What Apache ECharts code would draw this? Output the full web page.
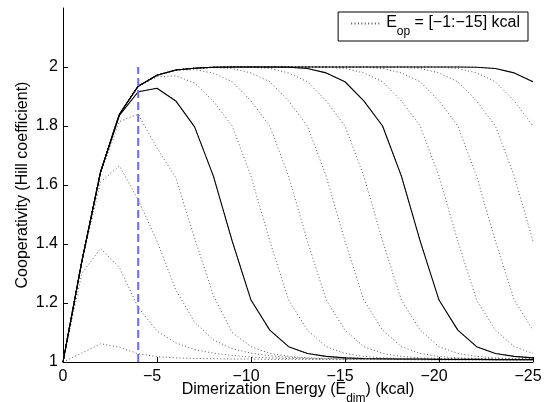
<!DOCTYPE html>
<html lang="en">
<head>
	<meta charset="utf-8">
	<title>Cooperativity vs dimerization energy</title>
	<script src="https://cdn.jsdelivr.net/npm/echarts@6/dist/echarts.min.js"></script>
	<style>
		html, body { margin: 0; padding: 0; background: #fff; }
		#chart { width: 553px; height: 402px; }
	</style>
</head>
<body>
<div id="chart"></div>
<script>
    // dimerization energy (kcal), one point per kcal
    var xVals = [0, -1, -2, -3, -4, -5, -6, -7, -8, -9, -10, -11, -12, -13, -14, -15, -16, -17, -18, -19, -20, -21, -22, -23, -24, -25];

    // Hill coefficient for each operator energy E_op = -1 ... -15 kcal
    var hillOp1 = [1.0, 1.03, 1.062, 1.05, 1.028, 1.018, 1.014, 1.012, 1.011, 1.010, 1.010, 1.009, 1.009, 1.009, 1.008, 1.008, 1.008, 1.008, 1.008, 1.007, 1.007, 1.007, 1.007, 1.007, 1.007, 1.007];
    var hillOp2 = [1.0, 1.30, 1.385, 1.32, 1.185, 1.105, 1.065, 1.042, 1.03, 1.022, 1.017, 1.014, 1.012, 1.011, 1.010, 1.010, 1.009, 1.009, 1.009, 1.008, 1.008, 1.008, 1.008, 1.008, 1.007, 1.007];
    var hillOp3 = [1.0, 1.34, 1.61, 1.665, 1.55, 1.41, 1.245, 1.135, 1.075, 1.045, 1.03, 1.021, 1.016, 1.013, 1.011, 1.010, 1.010, 1.009, 1.009, 1.009, 1.008, 1.008, 1.008, 1.008, 1.008, 1.008];
    var hillOp4 = [1.0, 1.34, 1.64, 1.815, 1.84, 1.725, 1.625, 1.42, 1.225, 1.10, 1.052, 1.029, 1.019, 1.014, 1.012, 1.011, 1.010, 1.010, 1.009, 1.009, 1.009, 1.008, 1.008, 1.008, 1.008, 1.008];
    var hillOp5 = [1.0, 1.34, 1.644, 1.836, 1.916, 1.928, 1.885, 1.797, 1.63, 1.41, 1.21, 1.108, 1.052, 1.029, 1.019, 1.014, 1.012, 1.011, 1.010, 1.010, 1.009, 1.009, 1.009, 1.008, 1.008, 1.008];
    var hillOp6 = [1.0, 1.34, 1.645, 1.84, 1.934, 1.967, 1.970, 1.946, 1.884, 1.80, 1.63, 1.41, 1.21, 1.108, 1.052, 1.029, 1.019, 1.014, 1.012, 1.011, 1.010, 1.010, 1.009, 1.009, 1.009, 1.008];
    var hillOp7 = [1.0, 1.34, 1.645, 1.84, 1.935, 1.972, 1.989, 1.991, 1.979, 1.95, 1.885, 1.80, 1.63, 1.41, 1.21, 1.108, 1.052, 1.029, 1.019, 1.014, 1.012, 1.011, 1.010, 1.010, 1.009, 1.009];
    var hillOp8 = [1.0, 1.34, 1.645, 1.84, 1.935, 1.972, 1.99, 1.996, 1.998, 1.995, 1.98, 1.95, 1.885, 1.80, 1.63, 1.41, 1.21, 1.108, 1.052, 1.029, 1.019, 1.014, 1.012, 1.011, 1.010, 1.010];
    var hillOp9 = [1.0, 1.34, 1.645, 1.84, 1.935, 1.972, 1.99, 1.996, 1.999, 2.0, 1.999, 1.995, 1.98, 1.95, 1.885, 1.80, 1.63, 1.41, 1.21, 1.108, 1.052, 1.029, 1.019, 1.014, 1.012, 1.011];
    var hillOp10 = [1.0, 1.34, 1.645, 1.84, 1.935, 1.972, 1.99, 1.996, 1.999, 2.0, 2.0, 2.0, 1.999, 1.995, 1.98, 1.95, 1.885, 1.80, 1.63, 1.41, 1.21, 1.108, 1.052, 1.029, 1.019, 1.014];
    var hillOp11 = [1.0, 1.34, 1.645, 1.84, 1.935, 1.972, 1.99, 1.996, 1.999, 2.0, 2.0, 2.0, 2.0, 2.0, 1.999, 1.995, 1.98, 1.95, 1.885, 1.80, 1.63, 1.41, 1.21, 1.108, 1.052, 1.029];
    var hillOp12 = [1.0, 1.34, 1.645, 1.84, 1.935, 1.972, 1.99, 1.996, 1.999, 2.0, 2.0, 2.0, 2.0, 2.0, 2.0, 2.0, 1.999, 1.995, 1.98, 1.95, 1.885, 1.80, 1.63, 1.41, 1.21, 1.108];
    var hillOp13 = [1.0, 1.34, 1.645, 1.84, 1.935, 1.972, 1.99, 1.996, 1.999, 2.0, 2.0, 2.0, 2.0, 2.0, 2.0, 2.0, 2.0, 2.0, 1.999, 1.995, 1.98, 1.95, 1.885, 1.80, 1.63, 1.41];
    var hillOp14 = [1.0, 1.34, 1.645, 1.84, 1.935, 1.972, 1.99, 1.996, 1.999, 2.0, 2.0, 2.0, 2.0, 2.0, 2.0, 2.0, 2.0, 2.0, 2.0, 2.0, 1.999, 1.995, 1.98, 1.95, 1.885, 1.80];
    var hillOp15 = [1.0, 1.34, 1.645, 1.84, 1.935, 1.972, 1.99, 1.996, 1.999, 2.0, 2.0, 2.0, 2.0, 2.0, 2.0, 2.0, 2.0, 2.0, 2.0, 2.0, 2.0, 2.0, 1.999, 1.995, 1.98, 1.95];

    // curves that are also drawn solid (E_op = -5, -10, -15)
    var solidOps = [5, 10, 15];

    // blue dashed marker
    var markerX = -4;
    var markerY = [1, 2];

    var yTicks = [1, 1.2, 1.4, 1.6, 1.8, 2];

    var allOps = [hillOp1, hillOp2, hillOp3, hillOp4, hillOp5, hillOp6, hillOp7, hillOp8,
        hillOp9, hillOp10, hillOp11, hillOp12, hillOp13, hillOp14, hillOp15];

    function pairs(arr) {
        return xVals.map(function (x, i) { return [x, arr[i]]; });
    }

    var dotColor = '#5a5a5a';
    var series = [];
    allOps.forEach(function (arr, k) {
        series.push({
            name: k === 0 ? 'Eop' : 'Eop' + (k + 1),
            type: 'line',
            data: pairs(arr),
            symbol: 'none',
            silent: true,
            z: 2,
            color: dotColor,
            itemStyle: { color: dotColor, opacity: 0 },
            lineStyle: { color: dotColor, width: 1, type: [1, 2.4] }
        });
    });
    solidOps.forEach(function (m) {
        series.push({
            name: 'solid' + m,
            type: 'line',
            data: pairs(allOps[m - 1]),
            symbol: 'none',
            silent: true,
            z: 3,
            color: '#000',
            lineStyle: { color: '#000', width: 1.1 }
        });
    });
    series.push({
        name: 'marker',
        type: 'line',
        data: markerY.map(function (y) { return [markerX, y]; }),
        symbol: 'none',
        silent: true,
        z: 4,
        color: '#6b6bff',
        lineStyle: { color: '#6b6bff', width: 2, type: [8, 4] }
    });

    var subRich = {
        a: { fontSize: 16, lineHeight: 17, verticalAlign: 'top', color: '#000' },
        s: { fontSize: 12, lineHeight: 13, padding: [11, 0, 0, 0], verticalAlign: 'top', color: '#000' }
    };

    var chart = echarts.init(document.getElementById('chart'));
    var option = {
        animation: false,
        textStyle: { fontFamily: 'Liberation Sans' },
        grid: { left: 63, right: 20, top: 8, bottom: 40, outerBoundsMode: 'none', containLabel: false },
        legend: {
            data: [{ name: 'Eop', itemStyle: { opacity: 0 } }],
            right: 25,
            top: 12,
            padding: [3, 8, 3, 12],
            borderColor: '#000',
            borderWidth: 1,
            borderRadius: 0,
            backgroundColor: '#fff',
            itemWidth: 30,
            itemHeight: 10,
            itemStyle: { opacity: 0 },
            formatter: function () {
                return '{a|E}{s|op}{a| = [\u22121:\u221215] kcal}';
            },
            textStyle: { color: '#000', rich: subRich }
        },
        xAxis: {
            type: 'value',
            min: -25,
            max: 0,
            interval: 5,
            inverse: true,
            splitLine: { show: false },
            axisLine: { onZero: false, lineStyle: { color: '#000', width: 1 } },
            axisTick: { inside: true, length: 5, lineStyle: { color: '#000' } },
            axisLabel: {
                margin: 7,
                formatter: function (v) {
                    if (v === 0) return '{z|0}';
                    return '{n|\u2212' + Math.abs(v) + '}';
                },
                rich: {
                    z: { fontSize: 16, color: '#000' },
                    n: { fontSize: 16, color: '#000', padding: [0, 10, 0, 0] }
                }
            },
            name: '{a|Dimerization Energy (E}{s|dim}{a|) (kcal)}',
            nameLocation: 'middle',
            nameMoveOverlap: false,
            nameGap: 20,
            nameTextStyle: { rich: subRich }
        },
        yAxis: {
            type: 'value',
            min: 1,
            max: 2.2,
            interval: 0.2,
            splitLine: { show: false },
            axisLine: { show: true, onZero: false, lineStyle: { color: '#000', width: 1 } },
            axisTick: { show: true, inside: true, length: 5, customValues: yTicks, lineStyle: { color: '#000' } },
            axisLabel: { customValues: yTicks, margin: 5, fontSize: 16, color: '#000' },
            name: 'Cooperativity (Hill coefficient)',
            nameLocation: 'middle',
            nameMoveOverlap: false,
            nameGap: 32,
            nameTextStyle: { fontSize: 16, color: '#000' }
        },
        series: series
    };
    chart.setOption(option);
</script>
</body>
</html>
